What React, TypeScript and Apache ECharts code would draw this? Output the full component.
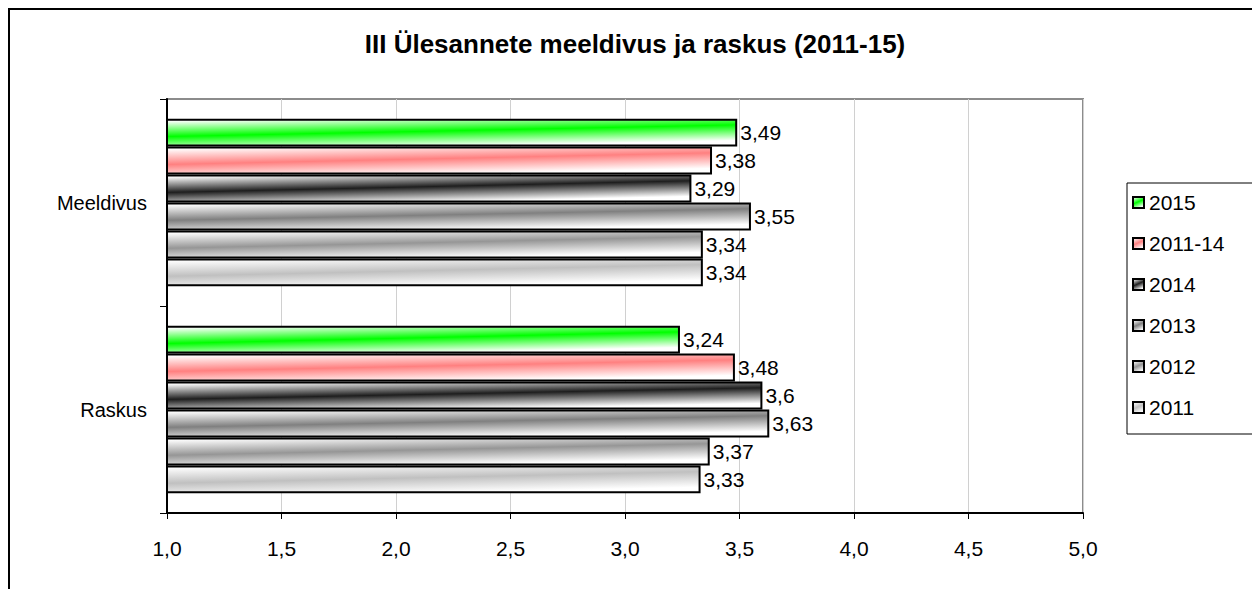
import React, { useEffect, useRef } from "react";
import * as echarts from "echarts";

const categories = ["Meeldivus", "Raskus"];
const seriesNames = ["2015", "2011-14", "2014", "2013", "2012", "2011"];
const s2015 = [3.49, 3.24];
const s2011_14 = [3.38, 3.48];
const s2014 = [3.29, 3.6];
const s2013 = [3.55, 3.63];
const s2012 = [3.34, 3.37];
const s2011 = [3.34, 3.33];
const seriesValues = [s2015, s2011_14, s2014, s2013, s2012, s2011];
const seriesColors = ["#00ff00", "#ff8080", "#1e1e1e", "#808080", "#969696", "#c0c0c0"];

const titleText = "III Ülesannete meeldivus ja raskus (2011-15)";
const FONT = "'Liberation Sans', Arial, sans-serif";

const fmt = (v: number) => String(v).replace(".", ",");

export default function App() {
  const ref = useRef<HTMLDivElement>(null);
  useEffect(() => {
    if (!ref.current) return;
    const chart = echarts.init(ref.current, undefined, { renderer: "svg" });
    const grad = (c: string) =>
      new echarts.graphic.LinearGradient(0, 0.05, 0.45, 1.05, [
        { offset: 0, color: "#ffffff" },
        { offset: 0.5, color: c },
        { offset: 1, color: "#ffffff" },
      ]);
    chart.setOption({
      animation: false,
      backgroundColor: "#ffffff",
      textStyle: { fontFamily: FONT },
      title: {
        text: titleText,
        left: "center",
        top: 16,
        textStyle: { fontFamily: FONT, fontSize: 26, fontWeight: "bold", color: "#000" },
      },
      legend: {
        orient: "vertical",
        left: 1117,
        top: 173,
        data: seriesNames,
        icon: "rect",
        itemWidth: 11,
        itemHeight: 11,
        itemGap: 20,
        padding: [9, 30, 16, 5],
        borderColor: "#000",
        borderWidth: 1,
        textStyle: { fontFamily: FONT, fontSize: 21, color: "#000" },
      },
      grid: {
        left: 157,
        top: 89,
        width: 916,
        height: 414,
        show: true,
        borderColor: "#8c8c8c",
        borderWidth: 2,
        backgroundColor: "transparent",
      },
      xAxis: {
        type: "value",
        min: 1,
        max: 5,
        interval: 0.5,
        axisLine: { show: true, lineStyle: { color: "#000", width: 2 } },
        axisTick: { show: true, length: 6, lineStyle: { color: "#000" } },
        splitLine: { show: true, lineStyle: { color: "#d0d0d0", width: 1 } },
        axisLabel: {
          margin: 25,
          fontFamily: FONT,
          fontSize: 21,
          color: "#000",
          formatter: (v: number) => v.toFixed(1).replace(".", ","),
        },
      },
      yAxis: {
        type: "category",
        inverse: true,
        data: categories,
        axisLine: { show: true, lineStyle: { color: "#000", width: 2 } },
        axisTick: { show: true, length: 7, lineStyle: { color: "#000" } },
        axisLabel: { margin: 20, fontFamily: FONT, fontSize: 20, color: "#000" },
      },
      series: seriesNames.map((name, i) => ({
        name,
        type: "bar",
        data: seriesValues[i],
        barGap: "0%",
        barCategoryGap: "19%",
        itemStyle: { color: grad(seriesColors[i]), borderColor: "#000", borderWidth: 2 },
        label: {
          show: true,
          position: "right",
          distance: 3,
          fontFamily: FONT,
          fontSize: 21,
          color: "#000",
          formatter: (p: any) => fmt(p.value),
        },
      })),
    });
    return () => chart.dispose();
  }, []);
  return (
    <div style={{ borderLeft: "2px solid #000", borderTop: "2px solid #000", width: 1250, height: 579 }}>
      <div ref={ref} style={{ width: 1250, height: 579 }} />
    </div>
  );
}
